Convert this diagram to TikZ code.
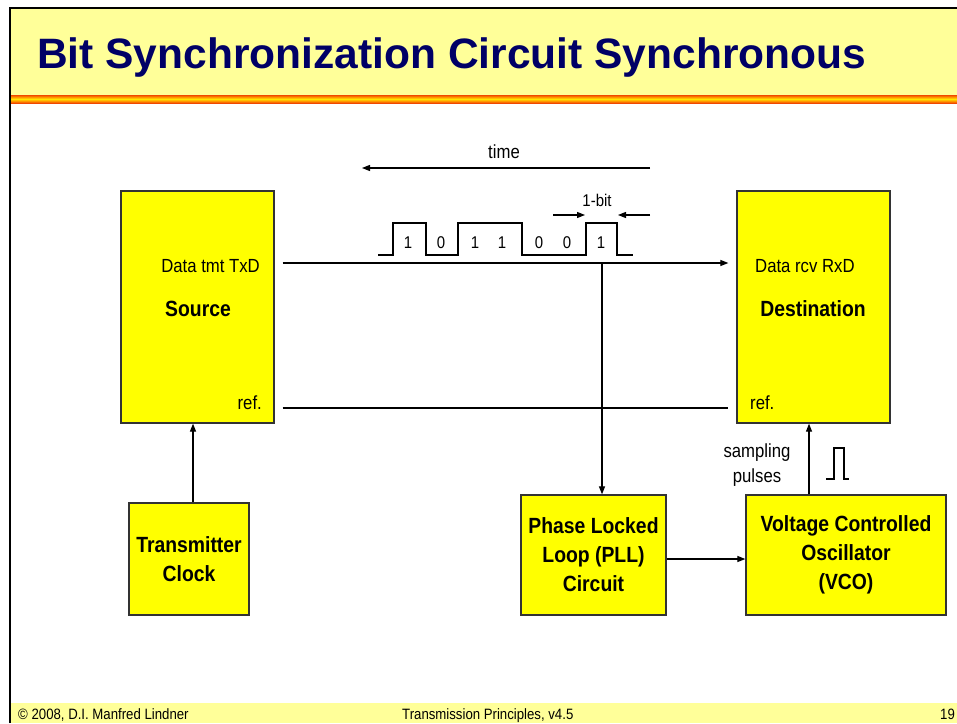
\documentclass[tikz,border=0pt]{standalone}
\usepackage{fontspec}
\setmainfont{Liberation Sans}
\newfontfamily\nar{Liberation Sans}[FakeStretch=0.88]
\usetikzlibrary{arrows.meta}
\definecolor{titleblue}{RGB}{0,0,102}
\definecolor{hdr}{RGB}{255,255,153}
\definecolor{boxy}{RGB}{255,255,0}
\definecolor{sdark}{RGB}{150,0,0}
\definecolor{sred}{RGB}{230,30,0}
\definecolor{sorange}{RGB}{255,140,0}
\definecolor{syellow}{RGB}{255,230,0}
\pgfdeclareverticalshading{stripe}{100bp}{color(0bp)=(sdark); color(18bp)=(sred); color(36bp)=(sorange); color(50bp)=(syellow); color(64bp)=(sorange); color(82bp)=(sred); color(100bp)=(sdark)}
\tikzset{
  box/.style={draw=black!80, line width=1.3pt, fill=boxy, inner sep=0pt},
  boldtxt/.style={font=\nar\bfseries\fontsize{22}{29}\selectfont, align=center},
  lbl/.style={font=\nar\fontsize{19}{23}\selectfont, inner sep=0pt},
  boldlbl/.style={font=\nar\bfseries\fontsize{22}{26}\selectfont, inner sep=0pt},
  small/.style={font=\nar\fontsize{17}{20}\selectfont, inner sep=0pt},
  foot/.style={font=\nar\fontsize{15}{17}\selectfont, inner sep=0pt, anchor=base west},
  conn/.style={line width=1.2pt},
  arr/.style={conn, -{Triangle[length=8pt,width=6pt]}}
}
\begin{document}
\begin{tikzpicture}[x=1pt,y=-1pt]
\useasboundingbox (0,0) rectangle (957,723);
\fill[white] (0,0) rectangle (957,723);
% header
\fill[hdr] (11,9) rectangle (957,95);
\shade[shading=stripe] (11,95) rectangle (957,103);
\fill[hdr] (11,703) rectangle (957,723);
\draw[line width=2.5pt] (10,723) -- (10,8) -- (957,8);
\node[anchor=base west, inner sep=0pt, font=\bfseries\fontsize{42.5}{50}\selectfont, text=titleblue] (title) at (37,68) {Bit Synchronization Circuit Synchronous};
% footer
\node[foot] (f1) at (18,719.5) {© 2008, D.I. Manfred Lindner};
\node[foot] (f2) at (402,719.5) {Transmission Principles, v4.5};
\node[foot] (f3) at (940,719.5) {19};
% boxes
\node[box, minimum width=153pt, minimum height=232pt] (src) at (197.5,307) {};
\node[box, minimum width=153pt, minimum height=232pt] (dst) at (813.5,307) {};
\node[box, minimum width=120pt, minimum height=112pt, boldtxt] (clk) at (189,559) {Transmitter\\Clock};
\node[box, minimum width=145pt, minimum height=120pt, boldtxt] (pll) at (593.5,555) {Phase Locked\\Loop (PLL)\\Circuit};
\node[box, minimum width=200pt, minimum height=120pt, boldtxt] (vco) at (846,555) {Voltage Controlled\\Oscillator\\(VCO)};
% box labels
\node[lbl, anchor=base east] (srcdata) at (260,272.5) {Data tmt TxD};
\node[boldlbl, anchor=base] (srcname) at (198,316.5) {Source};
\node[lbl, anchor=base east] (srcref) at (262,409.5) {ref.};
\node[lbl, anchor=base west] (dstdata) at (755,272.5) {Data rcv RxD};
\node[boldlbl, anchor=base] (dstname) at (813,316) {Destination};
\node[lbl, anchor=base west] (dstref) at (750,409) {ref.};
% connectors
\draw[arr, shorten <=8pt, shorten >=8pt] (src.east |- 0,263) -- (dst.west |- 0,263);
\draw[conn, shorten <=8pt, shorten >=8pt] (src.east |- 0,408) -- (dst.west |- 0,408);
\coordinate (tap) at (602,263);
\draw[arr] (tap) -- (tap |- pll.north);
\draw[arr] (clk.north -| 193,0) -- (src.south -| 193,0);
\draw[arr] (pll.east |- 0,559) -- (vco.west |- 0,559);
\draw[arr] (vco.north -| 809,0) -- (dst.south -| 809,0);
% sampling pulses
\node[lbl, anchor=base] (samp1) at (757,457) {sampling};
\node[lbl, anchor=base] (samp2) at (757,482) {pulses};
\draw[conn] (826,479) -- (834,479) -- (834,448) -- (844,448) -- (844,479) -- (849,479);
% time arrow
\coordinate (t0) at (650,168);
\coordinate (t1) at (362,168);
\draw[arr] (t0) -- (t1);
\node[lbl, anchor=base] (timelbl) at (504,158) {time};
% 1-bit
\coordinate (b0) at (553,215);
\coordinate (b1) at (585,215);
\coordinate (b2) at (650,215);
\coordinate (b3) at (618,215);
\draw[arr] (b0) -- (b1);
\draw[arr] (b2) -- (b3);
\node[small, anchor=base] (bitlbl) at (597,206) {1-bit};
% waveform
\draw[conn] (378,255) -- (393,255) -- (393,223) -- (426,223) -- (426,255) -- (458,255) -- (458,223) -- (522,223) -- (522,255) -- (586,255) -- (586,223) -- (617,223) -- (617,255) -- (633,255);
\foreach \xx/\d [count=\i] in {408/1,441/0,475/1,502/1,539/0,567/0,601/1}
  \node[small, anchor=base] (bit\i) at (\xx,248) {\d};
\end{tikzpicture}
\end{document}
